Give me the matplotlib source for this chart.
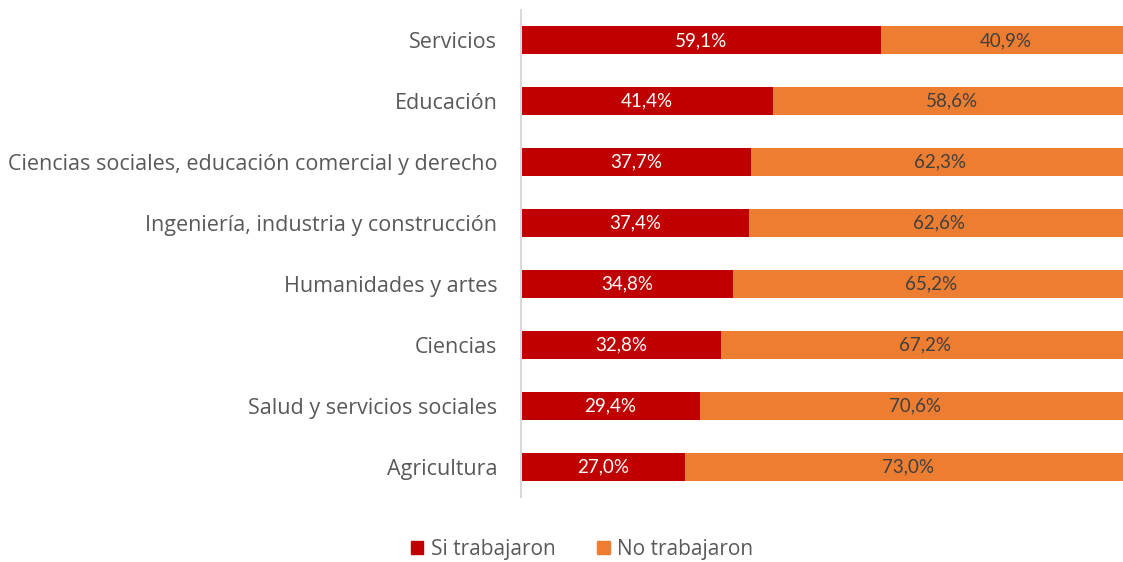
import matplotlib
matplotlib.use("Agg")
import matplotlib.pyplot as plt
from matplotlib.patches import Patch

categories = ["Servicios", "Educación", "Ciencias sociales, educación comercial y derecho",
              "Ingeniería, industria y construcción", "Humanidades y artes", "Ciencias",
              "Salud y servicios sociales", "Agricultura"]
si_trabajaron = [59.1, 41.4, 37.7, 37.4, 34.8, 32.8, 29.4, 27.0]
no_trabajaron = [40.9, 58.6, 62.3, 62.6, 65.2, 67.2, 70.6, 73.0]
series_names = ["Si trabajaron", "No trabajaron"]

RED = "#C00000"
ORANGE = "#ED7D31"
GREY = "#595959"

fig = plt.figure(figsize=(11.23, 5.62), dpi=100)
ax = fig.add_axes([521/1123, 1 - 497/562, 609/1123, 487/562])

y = list(range(len(categories)))
h = 0.46
ax.barh(y, si_trabajaron, height=h, color=RED)
ax.barh(y, no_trabajaron, left=si_trabajaron, height=h, color=ORANGE)

for i, (a, b) in enumerate(zip(si_trabajaron, no_trabajaron)):
    ax.text(a / 2, i, f"{a:.1f}%".replace(".", ","), ha="center", va="center",
            color="white", fontsize=13.5, family="Lato")
    ax.text(a + b / 2, i, f"{b:.1f}%".replace(".", ","), ha="center", va="center",
            color="#404040", fontsize=13.5, family="Lato")

ax.set_xlim(0, 100)
ax.set_ylim(len(categories) - 0.5, -0.5)
ax.set_yticks(y)
ax.set_yticklabels(categories, fontsize=15.5, color=GREY, family="Open Sans")
ax.tick_params(axis="y", length=0, pad=17)
ax.set_xticks([])
for s in ["top", "right", "bottom"]:
    ax.spines[s].set_visible(False)
ax.spines["left"].set_color("#D9D9D9")
ax.spines["left"].set_linewidth(1.5)

handles = [Patch(color=RED, label=series_names[0]), Patch(color=ORANGE, label=series_names[1])]
fig.legend(handles=handles, loc="center", bbox_to_anchor=(582/1123, 1 - 549/562), ncol=2,
           frameon=False, prop={"family": "Open Sans", "size": 15}, labelcolor=GREY,
           handlelength=0.6, handleheight=0.6, handletextpad=0.35, columnspacing=2.0)

fig.savefig("out.png", dpi=100)
